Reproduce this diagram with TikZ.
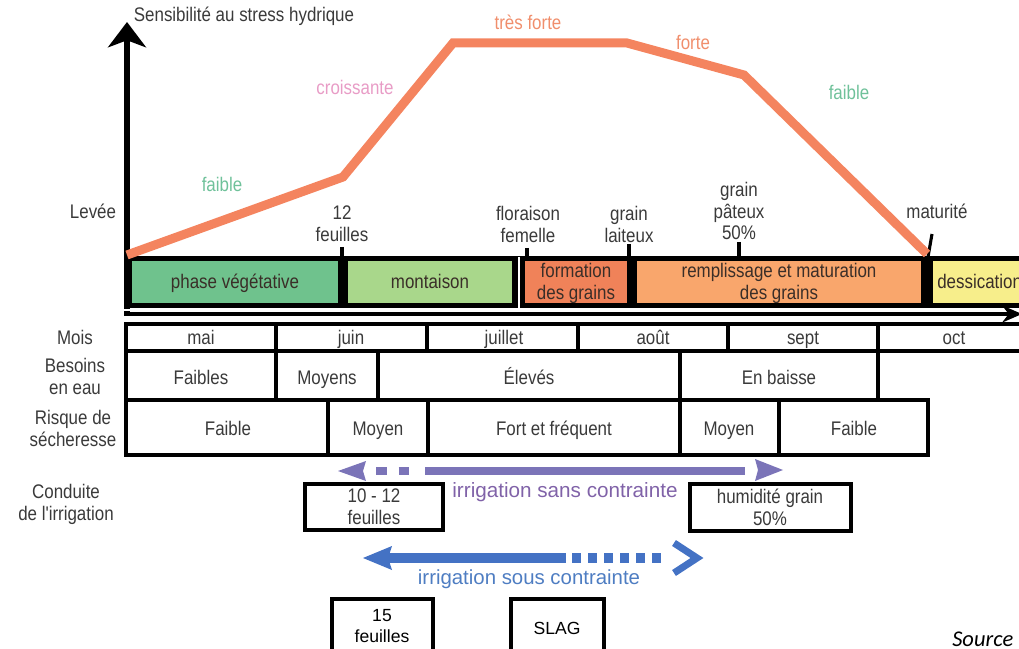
\documentclass[tikz,border=0pt]{standalone}
\usepackage{fontspec}
\setmainfont{Liberation Sans}
\newfontfamily\narrowfont{Liberation Sans}[FakeStretch=0.86]
\newfontfamily\sourcefont{Carlito}
\usetikzlibrary{arrows.meta}

\definecolor{courbe}{HTML}{F4845F}
\definecolor{txtgray}{HTML}{3A3A3A}
\definecolor{txtbrun}{HTML}{3A2E28}
\definecolor{vege}{HTML}{6FC28D}
\definecolor{mont}{HTML}{A9D78B}
\definecolor{form}{HTML}{F08259}
\definecolor{rempl}{HTML}{F9A66C}
\definecolor{dess}{HTML}{F7EE8B}
\definecolor{saumon}{HTML}{F08E6C}
\definecolor{rose}{HTML}{E89CC6}
\definecolor{vertclair}{HTML}{6FC19A}
\definecolor{violet}{HTML}{7B74B8}
\definecolor{violettxt}{HTML}{8062A8}
\definecolor{bleu}{HTML}{4472C4}
\definecolor{bleutxt}{HTML}{4E7DC2}

\begin{document}
\begin{tikzpicture}[x=0.025cm, y=-0.025cm,
    lbl/.style={font=\narrowfont\fontsize{14}{15.6}\selectfont, text=txtgray, align=center, inner sep=0pt},
    bl/.style={lbl, anchor=base},
    phasetxt/.style={lbl, text=txtbrun},
    curvetxt/.style={font=\narrowfont\fontsize{14}{15.6}\selectfont, inner sep=0pt},
    cell/.style={draw=black, line width=2.8pt},
    tick/.style={line width=2.2pt},
    boxline/.style={draw=black, line width=2.8pt},
    plaintxt/.style={font=\fontsize{12.5}{15}\selectfont, text=black, align=center, inner sep=0pt}]
    \clip (0,0) rectangle (1019,649);

    % axe de sensibilite
    \draw[line width=3.6pt, -{Stealth[length=18pt, width=27pt, inset=5pt]}] (127,314) -- (127,22);
    \node[lbl] (titre) at (244,16) {Sensibilité au stress hydrique};

    % bandeau des phases
    \fill[black] (124,256) rectangle (1030,308);
    \fill[vege] (132,261) rectangle (338,303);
    \fill[mont] (348,261) rectangle (512,303);
    \fill[form] (525,261) rectangle (627,303);
    \fill[rempl] (637,261) rectangle (921,303);
    \fill[dess] (933,261) rectangle (1030,303);
    \draw[white, line width=1.4pt] (519,257) -- (519,308);
    \draw[white, line width=2pt] (124,310) -- (1030,310);
    \draw[line width=3.2pt, -{Stealth[length=14pt, width=12pt]}] (124,314) -- (1022,314);

    \node[phasetxt, anchor=base] (vegetative) at (235,288) {phase végétative};
    \node[phasetxt, anchor=base] (montaison) at (430,288) {montaison};
    \node[phasetxt] (formation) at (576,283) {formation\\des grains};
    \node[phasetxt] (remplissage) at (779,283) {remplissage et maturation\\des grains};
    \node[phasetxt, anchor=base west] (dessication) at (937,288) {dessication};

    % stades
    \draw[tick] (342,247) -- (342,257);
    \draw[tick] (527,248) -- (527,257);
    \draw[tick] (629,244) -- (629,257);
    \draw[tick] (739,242) -- (739,257);
    \draw[tick] (932,234) -- (928,257);

    \node[bl] (levee) at (93,219) {Levée};
    \node[lbl] (douze) at (342,224) {12\\feuilles};
    \node[lbl] (floraison) at (528,224) {floraison\\femelle};
    \node[lbl] (laiteux) at (629,224) {grain\\laiteux};
    \node[lbl] (pateux) at (739,211) {grain\\pâteux\\50\%};
    \node[bl] (maturite) at (937,219) {maturité};

    % courbe de sensibilite
    \coordinate (c0) at (127,255);
    \coordinate (c1) at (343,177);
    \coordinate (c2) at (453,43);
    \coordinate (c3) at (627,43);
    \coordinate (c4) at (744,75);
    \coordinate (c5) at (927,254);
    \draw[courbe, line width=6.4pt, line join=miter] (c0) -- (c1) -- (c2) -- (c3) -- (c4) -- (c5);

    \node[curvetxt, text=vertclair] (faible1) at (222,184) {faible};
    \node[curvetxt, text=rose] (croissante) at (355,87) {croissante};
    \node[curvetxt, text=saumon] (tresforte) at (528,22) {très forte};
    \node[curvetxt, text=saumon] (forte) at (693,42) {forte};
    \node[curvetxt, text=vertclair] (faible2) at (849,92) {faible};

    % tableau
    \node[bl] (mois) at (75,344) {Mois};
    \node[lbl] (besoins) at (75,376) {Besoins\\en eau};
    \node[lbl] (risque) at (73,428) {Risque de\\sécheresse};
    \node[lbl] (conduite) at (66,504) {Conduite\\de l'irrigation};

    \draw[cell] (126,324) rectangle (276,351);
    \draw[cell] (276,324) rectangle (427,351);
    \draw[cell] (427,324) rectangle (578,351);
    \draw[cell] (578,324) rectangle (728,351);
    \draw[cell] (728,324) rectangle (878,351);
    \draw[cell] (878,324) rectangle (1030,351);
    \node[bl] (mai) at (201,344) {mai};
    \node[bl] (juin) at (351,344) {juin};
    \node[bl] (juillet) at (504,344) {juillet};
    \node[bl] (aout) at (653,344) {août};
    \node[bl] (sept) at (803,344) {sept};
    \node[bl] (oct) at (954,344) {oct};

    \draw[cell] (126,351) rectangle (276,400);
    \draw[cell] (276,351) rectangle (378,400);
    \draw[cell] (378,351) rectangle (680,400);
    \draw[cell] (680,351) rectangle (878,400);
    \node[bl] (bfaibles) at (201,384) {Faibles};
    \node[bl] (bmoyens) at (327,384) {Moyens};
    \node[bl] (beleves) at (529,384) {Élevés};
    \node[bl] (bbaisse) at (779,384) {En baisse};

    \draw[cell] (126,400) rectangle (328,455);
    \draw[cell] (328,400) rectangle (428,455);
    \draw[cell] (428,400) rectangle (680,455);
    \draw[cell] (680,400) rectangle (779,455);
    \draw[cell] (779,400) rectangle (928,455);
    \node[bl] (rfaible1) at (228,435) {Faible};
    \node[bl] (rmoyen1) at (378,435) {Moyen};
    \node[bl] (rfort) at (554,435) {Fort et fréquent};
    \node[bl] (rmoyen2) at (729,435) {Moyen};
    \node[bl] (rfaible2) at (854,435) {Faible};

    % irrigation sans contrainte
    \fill[violet] (338,471) -- (366,461) -- (363,471) -- (366,481) -- cycle;
    \draw[violet, line width=5.6pt, dash pattern=on 7.5pt off 8.5pt] (376,471) -- (414,471);
    \draw[violet, line width=5.6pt] (425,471) -- (745,471);
    \fill[violet] (755,459) -- (783,470) -- (755,481) -- (758,470) -- cycle;
    \node[font=\fontsize{14.7}{17}\selectfont, text=violettxt, inner sep=0pt] (sans) at (565,492) {irrigation sans contrainte};

    \draw[boxline] (305,484) rectangle (443,530);
    \node[lbl] (dixdouze) at (374,507) {10 - 12\\feuilles};
    \draw[boxline] (690,484) rectangle (851,531);
    \node[lbl] (humidite) at (770,507) {humidité grain\\50\%};

    % irrigation sous contrainte
    \fill[bleu] (363,558) -- (392,546) -- (388,558) -- (392,570) -- cycle;
    \draw[bleu, line width=7pt] (387,558) -- (566,558);
    \draw[bleu, line width=7pt, dash pattern=on 6.4pt off 5pt] (572,558) -- (668,558);
    \draw[bleu, line width=5pt, line join=miter] (674,543) -- (697,558) -- (674,573);
    \node[font=\fontsize{14.5}{17}\selectfont, text=bleutxt, inner sep=0pt] (sous) at (529,579) {irrigation sous contrainte};

    \draw[boxline] (332,599) rectangle (433,665);
    \node[plaintxt] (quinze) at (382,626) {15\\feuilles};
    \draw[boxline] (511,599) rectangle (604,665);
    \node[plaintxt] (slag) at (557,628) {SLAG};

    \node[font=\sourcefont\itshape\fontsize{16}{18}\selectfont, anchor=base west, inner sep=0pt] (source) at (952,646) {Source};
\end{tikzpicture}
\end{document}
